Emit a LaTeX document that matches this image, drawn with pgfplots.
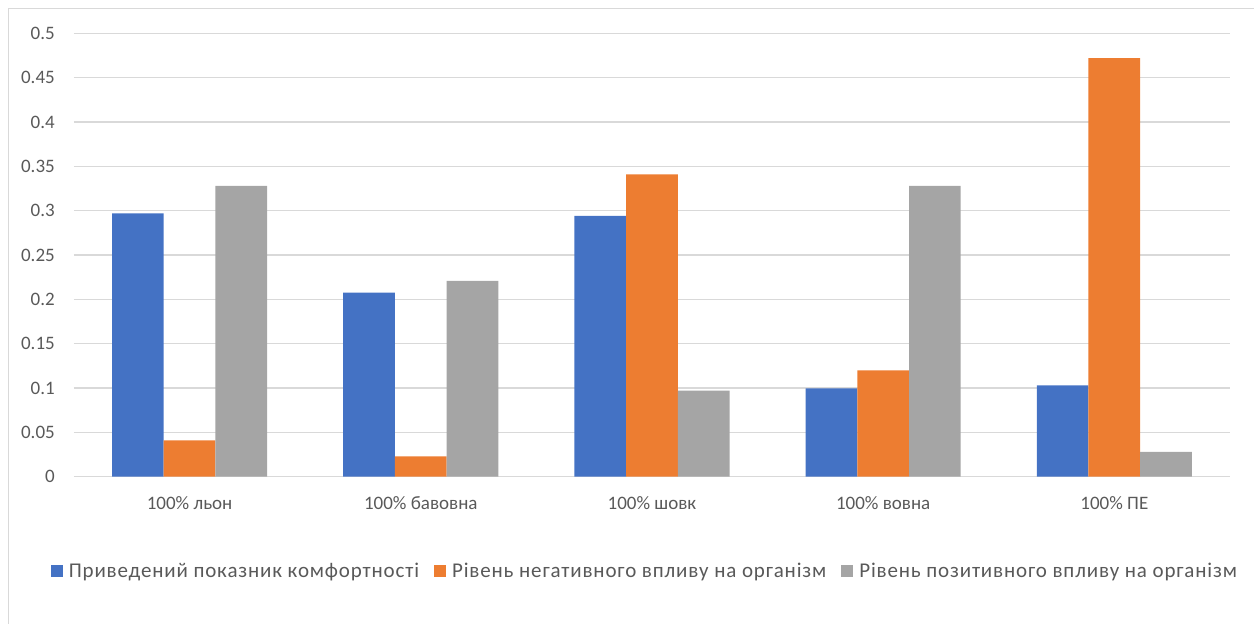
\documentclass[border=0pt]{standalone}
\usepackage{fontspec}
\setmainfont{Carlito}
\newfontfamily\legfont[LetterSpace=4]{Carlito}
\usepackage{pgfplots}
\pgfplotsset{compat=1.18}
\definecolor{cblue}{HTML}{4472C4}
\definecolor{corange}{HTML}{ED7D31}
\definecolor{cgray}{HTML}{A5A5A5}
\definecolor{gridc}{HTML}{D9D9D9}
\definecolor{textc}{HTML}{595959}
\begin{document}
\begin{tikzpicture}[x=1pt,y=1pt]
\useasboundingbox (0,0) rectangle (1254,624);
\draw[color=gridc, line width=1.5pt] (8.5,0) -- (8.5,615.5) -- (1254,615.5);
\begin{axis}[
  at={(74pt,147.3pt)}, anchor=south west,
  scale only axis, width=1156pt, height=443.4pt,
  ybar=0pt, bar width=51.7pt,
  xmin=-0.5, xmax=4.5, ymin=0, ymax=0.5,
  xtick={0,1,2,3,4},
  xticklabels={100\% льон, 100\% бавовна, 100\% шовк, 100\% вовна, 100\% ПЕ},
  ytick={0,0.05,0.1,0.15,0.2,0.25,0.3,0.35,0.4,0.45,0.5},
  yticklabels={0,0.05,0.1,0.15,0.2,0.25,0.3,0.35,0.4,0.45,0.5},
  axis line style={draw=none},
  tick style={draw=none}, major tick length=0pt,
  ymajorgrids, grid style={gridc, line width=1.3pt},
  tick label style={font=\fontsize{19}{22}\selectfont, text=textc, inner sep=0pt},
  yticklabel style={anchor=east, xshift=-19pt},
  xticklabel style={anchor=north, yshift=-20pt},
  legend columns=3,
  legend style={at={(0.493,-0.2127)}, anchor=center, draw=none, fill=none,
    font=\legfont\fontsize{21}{24}\selectfont, text=textc,
    /tikz/every even column/.append style={column sep=15pt},
    nodes={inner sep=0pt}},
  legend cell align=left,
  legend image code/.code={\fill[#1] (0pt,-6pt) rectangle (12pt,6pt); \path (18pt,0pt);},
]
\addplot[fill=cblue, draw=none] coordinates {(0,0.297) (1,0.2075) (2,0.294) (3,0.0997) (4,0.103)};
\addplot[fill=corange, draw=none] coordinates {(0,0.041) (1,0.023) (2,0.341) (3,0.120) (4,0.472)};
\addplot[fill=cgray, draw=none] coordinates {(0,0.328) (1,0.2207) (2,0.097) (3,0.328) (4,0.028)};
\legend{Приведений показник комфортності, Рівень негативного впливу на організм, Рівень позитивного впливу на організм}
\end{axis}
\end{tikzpicture}
\end{document}
